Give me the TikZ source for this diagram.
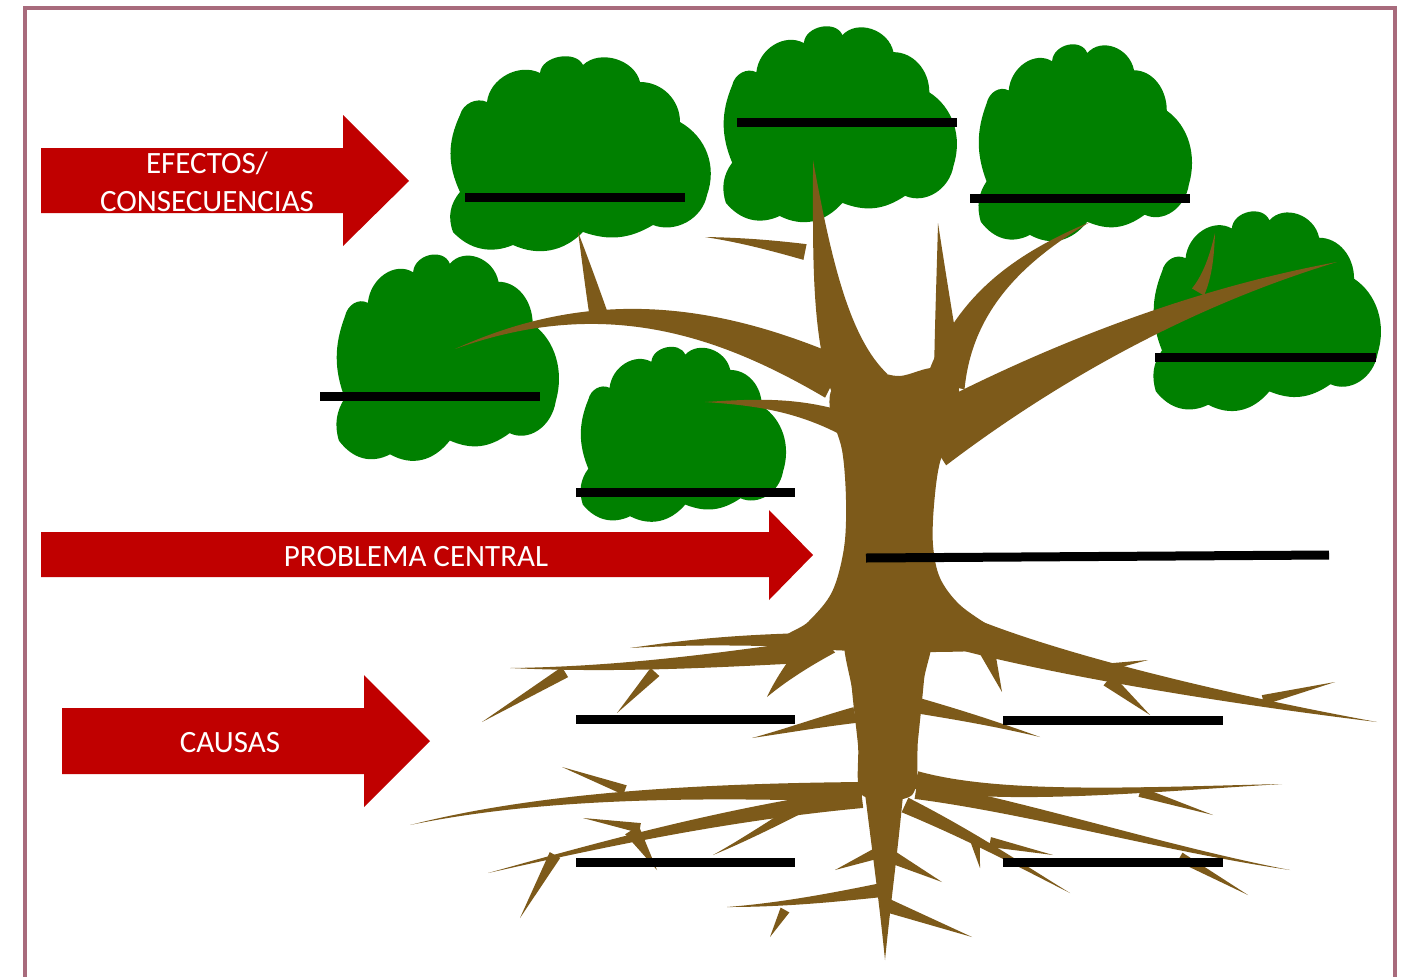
\documentclass[tikz,border=0pt]{standalone}
\usepackage{fontspec}
\newfontfamily\lblfont{Carlito}
\usetikzlibrary{calc}
\definecolor{leaf}{HTML}{008000}
\definecolor{bark}{HTML}{7D5A1A}
\definecolor{arrowred}{HTML}{C00000}
\definecolor{framec}{HTML}{A86B7C}
\newcommand\tap[5]{\fill[bark] ($(#1)!#5pt!90:(#2)$) .. controls ($(#2)!0.65*#5pt!90:(#3)$) and ($(#3)!0.3*#5pt!90:(#4)$) .. (#4) .. controls ($(#3)!0.3*#5pt!-90:(#4)$) and ($(#2)!0.65*#5pt!-90:(#3)$) .. ($(#1)!#5pt!-90:(#2)$) -- cycle;}
\newcommand\spk[3]{\fill[bark] ($(#1)!#3pt!90:(#2)$) -- (#2) -- ($(#1)!#3pt!-90:(#2)$) -- cycle;}
\newcommand\foliage[4]{\begin{scope}[shift={(#1,#2)},xscale=#3/260,yscale=#4/205]
\fill[leaf] (8,140) to[bend left=25] (8,63) to[bend left=50] (35,50) to[bend left=55] (88,21)
 to[bend left=75] (131,13) to[bend left=60] (188,30) to[bend left=45] (228,70)
 to[bend left=40] (255,143) to[bend left=50] (201,173) to[bend left=25] (131,180)
 to[bend left=35] (61,193) to[bend left=35] (1,180) to[bend left=30] (8,140) -- cycle;
\end{scope}}
\tikzset{
  blank/.style={line width=9pt,black},
  lbl/.style={text=white,font=\lblfont\fontsize{31}{31}\selectfont,inner sep=0pt},
  framel/.style={draw=framec,line width=4pt}
}
\begin{document}
\begin{tikzpicture}[x=1pt,y=-1pt]
\useasboundingbox (0,0) rectangle (1411,977);
\fill[white] (0,0) rectangle (1411,977);
% frame
\draw[framel] (25,977) -- (25,8) -- (1395,8) -- (1395,977);
% foliage
\foliage{452}{52}{260}{205}
\foliage{725}{22}{233}{206}
\foliage{980}{40}{213}{207}
\foliage{1155}{207}{227}{210}
\foliage{338}{250}{222}{217}
\foliage{582}{343}{205}{184}
% trunk
\fill[bark] plot[smooth cycle, tension=0.55] coordinates {(835,385) (870,372) (900,376) (935,368) (958,385) (955,425) (940,462) (934,505) (933,545) (940,578) (960,605) (995,630) (1015,648) (900,652) (780,645) (808,622) (832,592) (844,548) (846,500) (842,450) (830,410)};
% branches
\tap{862,390}{830,340}{822,260}{813,160}{30}
\tap{805,252}{770,245}{740,240}{705,237}{8}
\tap{835,378}{720,320}{600,290}{455,349}{22}
\tap{598,312}{590,280}{584,255}{578,232}{9}
\tap{848,425}{800,405}{760,402}{705,402}{12}
\tap{948,372}{944,320}{941,270}{938,223}{14}
\tap{945,385}{962,310}{1010,262}{1090,222}{20}
\tap{930,440}{1040,370}{1180,300}{1337,262}{30}
\tap{1198,292}{1208,275}{1212,255}{1215,233}{7}
% central column
\fill[bark] plot[smooth cycle, tension=0.5] coordinates {(848,630) (928,630) (924,680) (918,740) (912,795) (862,795) (858,745) (852,690)};
\tap{884,785}{885,850}{885,900}{885,960}{20}
% left roots
\tap{825,640}{800,660}{780,680}{767,697}{16}
\tap{805,640}{720,640}{680,643}{630,648}{7}
\tap{805,652}{720,660}{620,670}{510,668}{11}
\spk{655,672}{617,713}{6}
\spk{565,672}{482,722}{6}
\tap{855,715}{820,722}{790,730}{752,738}{8}
\tap{862,792}{700,790}{540,795}{410,825}{10}
\spk{625,790}{562,767}{5}
\tap{862,798}{720,815}{600,845}{488,873}{10}
\spk{640,828}{583,818}{5}
\spk{632,830}{657,870}{8}
\spk{555,855}{520,918}{6}
\tap{805,805}{770,825}{740,842}{713,855}{6}
\tap{882,890}{830,898}{780,905}{727,907}{7}
\spk{785,910}{770,937}{5}
\spk{880,852}{835,870}{6}
% right roots
\spk{985,645}{1002,692}{9}
\tap{955,630}{1040,660}{1200,695}{1377,722}{18}
\spk{1090,670}{1148,660}{5}
\spk{1108,680}{1150,715}{7}
\spk{1263,700}{1335,682}{5}
\tap{915,705}{960,715}{1000,725}{1040,737}{8}
\tap{916,780}{1000,800}{1140,790}{1282,784}{9}
\spk{1140,792}{1213,815}{5}
\tap{916,790}{1030,808}{1170,850}{1290,870}{9}
\spk{1180,857}{1248,895}{5}
\tap{905,805}{970,835}{1020,865}{1070,893}{8}
\spk{975,840}{980,868}{5}
\spk{990,842}{1053,855}{5}
\spk{888,855}{942,882}{7}
\spk{886,905}{972,937}{7}
% blank lines
\draw[blank] (465,197) -- (685,197);
\draw[blank] (737,122) -- (957,122);
\draw[blank] (970,198) -- (1190,198);
\draw[blank] (1155,357) -- (1376,357);
\draw[blank] (320,396) -- (540,396);
\draw[blank] (576,492) -- (795,492);
\draw[blank] (866,558) -- (1329,555);
\draw[blank] (576,719) -- (795,719);
\draw[blank] (1003,720) -- (1223,720);
\draw[blank] (576,862) -- (795,862);
\draw[blank] (1003,862) -- (1223,862);
% arrows
\fill[arrowred] (41,148) -- (343,148) -- (343,115) -- (409,181) -- (343,246) -- (343,213) -- (41,213) -- cycle;
\fill[arrowred] (41,532) -- (769,532) -- (769,510) -- (813,555) -- (769,600) -- (769,577) -- (41,577) -- cycle;
\fill[arrowred] (62,708) -- (364,708) -- (364,675) -- (430,741) -- (364,807) -- (364,774) -- (62,774) -- cycle;
\node[lbl,anchor=base] (efectos) at (207,173) {EFECTOS/};
\node[lbl,anchor=base] (consec) at (207,211) {CONSECUENCIAS};
\node[lbl,anchor=base] (problema) at (416,566) {PROBLEMA CENTRAL};
\node[lbl,anchor=base] (causas) at (230,752) {CAUSAS};
\end{tikzpicture}
\end{document}
